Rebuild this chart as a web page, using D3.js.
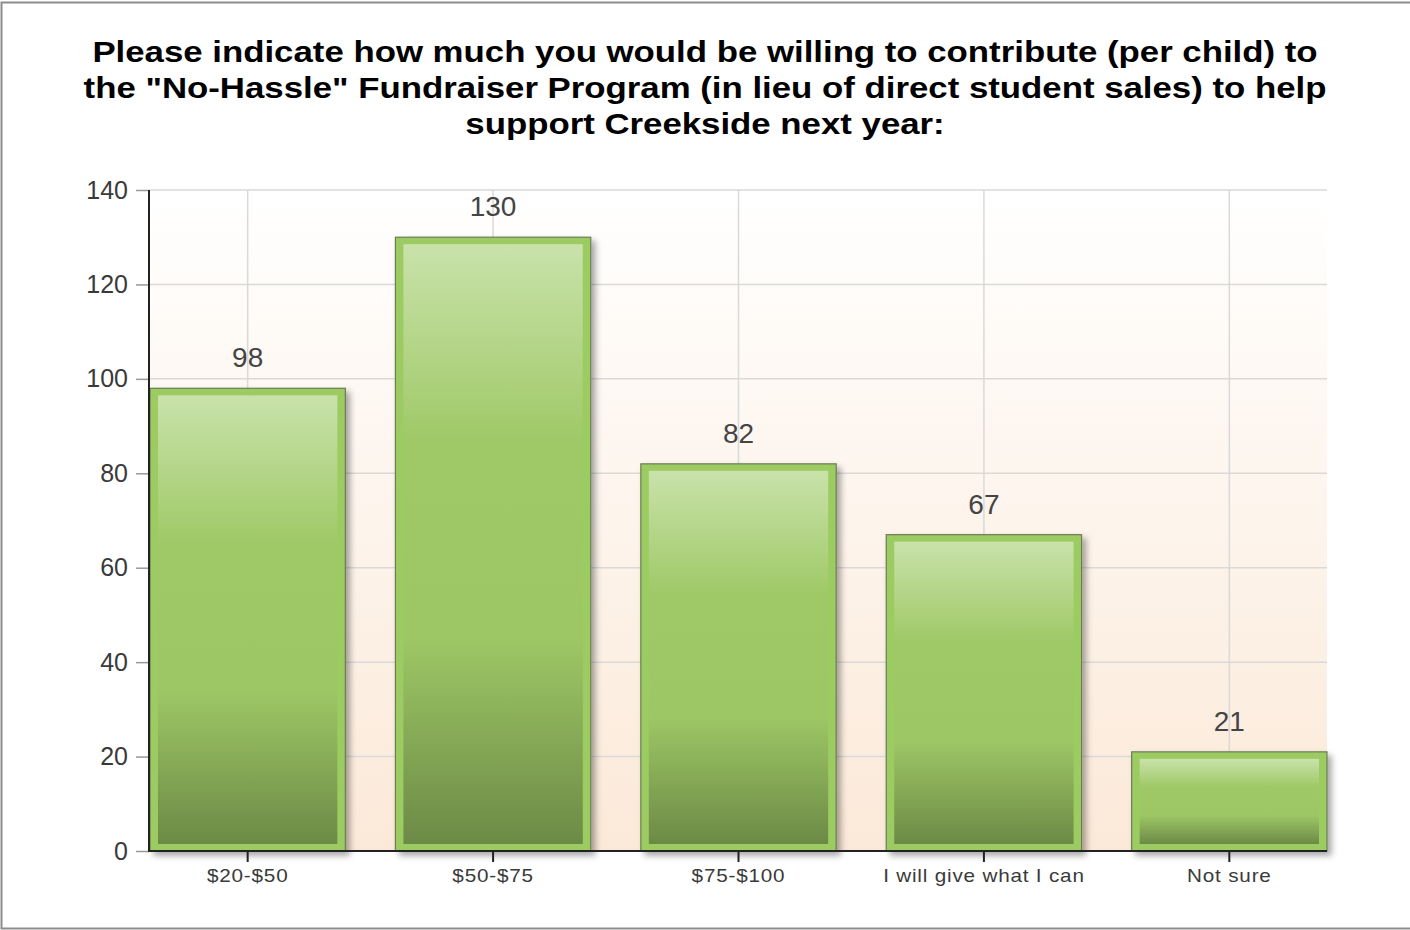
<!DOCTYPE html>
<html>
<head>
<meta charset="utf-8">
<script src="https://cdn.jsdelivr.net/npm/d3@7/dist/d3.min.js"></script>
<style>
  html, body { margin: 0; padding: 0; background: #fff; }
  svg { display: block; }
  text { font-family: "Liberation Sans", Arial, sans-serif; }
</style>
</head>
<body>
<svg id="chart" width="1410" height="930"></svg>
<script>
const categories = ['$20-$50', '$50-$75', '$75-$100', 'I will give what I can', 'Not sure'];
const counts = [98, 130, 82, 67, 21];
const yTicks = [0, 20, 40, 60, 80, 100, 120, 140];
const titleLines = [
  'Please indicate how much you would be willing to contribute (per child) to',
  'the "No-Hassle" Fundraiser Program (in lieu of direct student sales) to help',
  'support Creekside next year:'
];

const svg = d3.select('#chart');
const width = 1410;
const plot = { left: 149, right: 1327, top: 190, bottom: 851 };

const defs = svg.append('defs');

const bg = defs.append('linearGradient')
  .attr('id', 'plot-bg').attr('x1', 0).attr('y1', 0).attr('x2', 0).attr('y2', 1);
bg.append('stop').attr('offset', '0%').attr('stop-color', '#ffffff');
bg.append('stop').attr('offset', '100%').attr('stop-color', '#fbe9d8');

const barFill = defs.append('linearGradient')
  .attr('id', 'bar-fill').attr('x1', 0).attr('y1', 0).attr('x2', 0).attr('y2', 1);
barFill.append('stop').attr('offset', '0%').attr('stop-color', '#c9e2aa');
barFill.append('stop').attr('offset', '33%').attr('stop-color', '#9fc967');
barFill.append('stop').attr('offset', '66%').attr('stop-color', '#9dc765');
barFill.append('stop').attr('offset', '100%').attr('stop-color', '#6c8a46');

const shadow = defs.append('filter').attr('id', 'shadow')
  .attr('x', '-10%').attr('y', '-10%').attr('width', '130%').attr('height', '130%');
shadow.append('feDropShadow')
  .attr('dx', 4).attr('dy', 4).attr('stdDeviation', 3)
  .attr('flood-color', '#000').attr('flood-opacity', 0.35);

// outer frame
svg.append('rect')
  .attr('x', 1.5).attr('y', 2.5)
  .attr('width', width).attr('height', 926)
  .attr('fill', 'none').attr('stroke', '#8c8c8c').attr('stroke-width', 2);

// title (the original renders it wide, so stretch it horizontally)
svg.append('g')
  .attr('transform', 'translate(705,0) scale(1.2,1)')
  .append('text')
  .attr('x', 0).attr('y', 62)
  .attr('text-anchor', 'middle')
  .attr('font-size', 29).attr('font-weight', 'bold').attr('fill', '#000')
  .selectAll('tspan')
  .data(titleLines)
  .join('tspan')
  .attr('x', 0)
  .attr('dy', (d, i) => (i === 0 ? 0 : 36))
  .text((d) => d);

const x = d3.scaleBand()
  .domain(categories)
  .range([150, plot.right])
  .paddingInner(0.204)
  .paddingOuter(0);

const y = d3.scaleLinear()
  .domain([0, 140])
  .range([plot.bottom, plot.top]);

svg.append('rect')
  .attr('x', plot.left).attr('y', plot.top)
  .attr('width', plot.right - plot.left).attr('height', plot.bottom - plot.top)
  .attr('fill', 'url(#plot-bg)');

// grid
svg.append('g')
  .selectAll('line')
  .data(yTicks.filter((d) => d > 0))
  .join('line')
  .attr('x1', plot.left).attr('x2', plot.right)
  .attr('y1', (d) => y(d)).attr('y2', (d) => y(d))
  .attr('stroke', '#d9d9d9').attr('stroke-width', 1.5);

svg.append('g')
  .selectAll('line')
  .data(categories)
  .join('line')
  .attr('x1', (d) => x(d) + x.bandwidth() / 2).attr('x2', (d) => x(d) + x.bandwidth() / 2)
  .attr('y1', plot.top).attr('y2', plot.bottom)
  .attr('stroke', '#d9d9d9').attr('stroke-width', 1.5);

// bars
const bars = svg.append('g')
  .selectAll('g')
  .data(categories.map((c, i) => ({ label: c, value: counts[i] })))
  .join('g');

bars.append('rect')
  .attr('x', (d) => x(d.label))
  .attr('y', (d) => y(d.value))
  .attr('width', x.bandwidth())
  .attr('height', (d) => y(0) - y(d.value))
  .attr('fill', '#9ccb62')
  .attr('stroke', '#6b7d57').attr('stroke-width', 1.2)
  .attr('filter', 'url(#shadow)');

bars.append('rect')
  .attr('x', (d) => x(d.label) + 8)
  .attr('y', (d) => y(d.value) + 7)
  .attr('width', x.bandwidth() - 16)
  .attr('height', (d) => y(0) - y(d.value) - 14)
  .attr('fill', 'url(#bar-fill)');

bars.append('text')
  .attr('x', (d) => x(d.label) + x.bandwidth() / 2)
  .attr('y', (d) => y(d.value) - 21)
  .attr('text-anchor', 'middle')
  .attr('font-size', 28).attr('fill', '#444')
  .text((d) => d.value);

// axes
const yAxis = svg.append('g')
  .attr('transform', `translate(${plot.left},0)`)
  .call(d3.axisLeft(y).tickValues(yTicks).tickSize(13).tickPadding(8));
yAxis.select('.domain').remove();
yAxis.selectAll('.tick line').attr('stroke', '#999').attr('stroke-width', 1.5);
yAxis.selectAll('.tick text')
  .attr('font-family', '"Liberation Sans", Arial, sans-serif')
  .attr('font-size', 25).attr('fill', '#3a3a3a');

const xAxis = svg.append('g')
  .attr('transform', `translate(0,${plot.bottom})`)
  .call(d3.axisBottom(x).tickSize(11).tickPadding(7));
xAxis.select('.domain').remove();
xAxis.selectAll('.tick line').attr('stroke', '#222').attr('stroke-width', 2);
xAxis.selectAll('.tick text')
  .attr('font-family', '"Liberation Sans", Arial, sans-serif')
  .attr('font-size', 18).attr('letter-spacing', 0.7).attr('fill', '#3a3a3a')
  .attr('transform', 'scale(1.15,1)');

svg.append('line')
  .attr('x1', plot.left).attr('x2', plot.left)
  .attr('y1', plot.top).attr('y2', plot.bottom + 1)
  .attr('stroke', '#222').attr('stroke-width', 2);
svg.append('line')
  .attr('x1', plot.left).attr('x2', plot.right)
  .attr('y1', plot.bottom).attr('y2', plot.bottom)
  .attr('stroke', '#222').attr('stroke-width', 2);
</script>
</body>
</html>
